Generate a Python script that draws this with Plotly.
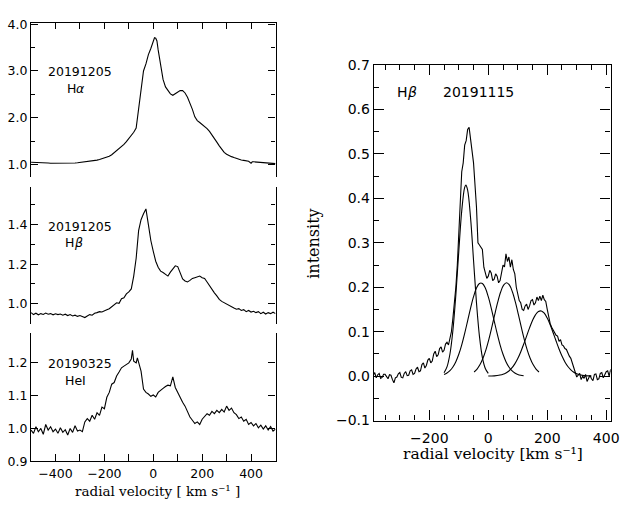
import plotly.graph_objects as go

# ---------------- data ----------------
# Left panels: radial velocity grid (km/s)
v_left = [-500, -490, -480, -470, -460, -450, -440, -430, -420, -410,
          -400, -390, -380, -370, -360, -350, -340, -330, -320, -310,
          -300, -290, -280, -270, -260, -250, -240, -230, -220, -210,
          -200, -190, -180, -170, -160, -150, -140, -130, -120, -110,
          -100, -90, -80, -70, -60, -50, -40, -30, -20, -10,
          0, 10, 20, 30, 40, 50, 60, 70, 80, 90,
          100, 110, 120, 130, 140, 150, 160, 170, 180, 190,
          200, 210, 220, 230, 240, 250, 260, 270, 280, 290,
          300, 310, 320, 330, 340, 350, 360, 370, 380, 390,
          400, 410, 420, 430, 440, 450, 460, 470, 480, 490, 500]

v_halpha = [-500, -490, -480, -470, -460, -450, -440, -430, -420, -410,
            -400, -390, -380, -370, -360, -350, -340, -330, -320, -310,
            -300, -290, -280, -270, -260, -250, -240, -230, -220, -210,
            -200, -190, -180, -170, -160, -150, -140, -130, -120, -110,
            -100, -90, -80, -70, -60, -50, -40, -30, -20, -10,
            0, 5, 10, 15, 20, 30, 40, 50, 60, 70, 80, 90,
            100, 110, 120, 130, 140, 150, 160, 170, 180, 190,
            200, 210, 220, 230, 240, 250, 260, 270, 280, 290,
            300, 310, 320, 330, 340, 350, 360, 370, 380, 390,
            400, 405, 410, 420, 430, 440, 450, 460, 470, 480, 490, 500]
halpha = [1.05, 1.05, 1.045, 1.05, 1.045, 1.04, 1.04, 1.035, 1.03, 1.03,
          1.025, 1.03, 1.025, 1.02, 1.02, 1.025, 1.03, 1.03, 1.035, 1.04,
          1.045, 1.05, 1.055, 1.06, 1.065, 1.075, 1.085, 1.095, 1.11, 1.125,
          1.14, 1.16, 1.18, 1.21, 1.25, 1.29, 1.33, 1.38, 1.43, 1.49,
          1.55, 1.62, 1.69, 1.78, 2.15, 2.60, 3.00, 3.15, 3.35, 3.48,
          3.66, 3.71, 3.70, 3.64, 3.45, 3.10, 2.82, 2.66, 2.58, 2.51, 2.48, 2.52,
          2.55, 2.58, 2.58, 2.53, 2.44, 2.32, 2.18, 2.02, 1.94, 1.90,
          1.86, 1.82, 1.77, 1.71, 1.64, 1.56, 1.48, 1.40, 1.32, 1.26,
          1.22, 1.19, 1.17, 1.15, 1.13, 1.11, 1.10, 1.09, 1.08, 1.07,
          1.03, 1.06, 1.06, 1.055, 1.05, 1.05, 1.045, 1.04, 1.035, 1.03, 1.02, 1.02]

hbeta_left = [0.955, 0.945, 0.952, 0.944, 0.950, 0.946, 0.953, 0.947, 0.950, 0.944,
              0.949, 0.945, 0.948, 0.942, 0.947, 0.940, 0.945, 0.938, 0.942, 0.936,
              0.940, 0.934, 0.930, 0.938, 0.945, 0.942, 0.952, 0.955, 0.960, 0.958,
              0.966, 0.970, 0.975, 0.985, 0.992, 1.005, 1.002, 1.025, 1.030, 1.050,
              1.060, 1.075, 1.140, 1.230, 1.370, 1.425, 1.455, 1.480, 1.400, 1.320,
              1.265, 1.215, 1.185, 1.165, 1.158, 1.150, 1.140, 1.160, 1.175, 1.192,
              1.188, 1.160, 1.125, 1.115, 1.110, 1.118, 1.128, 1.132, 1.138, 1.140,
              1.132, 1.128, 1.110, 1.090, 1.072, 1.055, 1.040, 1.022, 1.012, 1.005,
              0.995, 0.990, 0.982, 0.978, 0.972, 0.975, 0.966, 0.970, 0.960, 0.966,
              0.958, 0.962, 0.955, 0.960, 0.950, 0.957, 0.948, 0.955, 0.950, 0.957, 0.950]

v_hei = [-500, -490, -480, -470, -460, -450, -440, -430, -420, -410,
         -400, -390, -380, -370, -360, -350, -340, -330, -320, -310,
         -300, -290, -280, -270, -260, -250, -240, -230, -220, -210,
         -200, -190, -180, -170, -160, -150, -140, -130, -120, -110,
         -100, -90, -85, -80, -70, -65, -60, -50, -40, -30, -20, -10,
         0, 10, 20, 30, 40, 50, 60, 70, 80, 90,
         100, 110, 120, 130, 140, 150, 160, 170, 180, 190,
         200, 210, 220, 230, 240, 250, 260, 270, 280, 290,
         300, 310, 320, 330, 340, 350, 360, 370, 380, 390,
         400, 410, 420, 430, 440, 450, 460, 470, 480, 490, 500]
hei = [0.995, 0.985, 1.005, 0.990, 1.000, 0.982, 1.012, 0.995, 1.005, 0.990,
       0.998, 0.985, 1.002, 0.988, 0.996, 0.980, 1.000, 0.988, 1.008, 0.992,
       0.995, 0.990, 1.020, 1.030, 1.022, 1.040, 1.028, 1.048, 1.040, 1.065,
       1.060, 1.095, 1.110, 1.135, 1.140, 1.160, 1.172, 1.185, 1.190, 1.195,
       1.200, 1.212, 1.238, 1.205, 1.200, 1.215, 1.200, 1.175, 1.120, 1.110, 1.105, 1.098,
       1.102, 1.096, 1.110, 1.115, 1.122, 1.128, 1.132, 1.130, 1.157, 1.125,
       1.110, 1.092, 1.080, 1.068, 1.050, 1.035, 1.025, 1.015, 1.020, 1.012,
       1.028, 1.035, 1.045, 1.040, 1.052, 1.045, 1.055, 1.048, 1.058, 1.050,
       1.068, 1.055, 1.062, 1.048, 1.042, 1.030, 1.035, 1.022, 1.028, 1.012,
       1.018, 1.008, 1.015, 1.002, 1.010, 0.998, 1.008, 0.995, 1.006, 0.992, 0.998]

# Right panel: Hbeta 20191115 spectrum
v_right = [-390, -385, -380, -375, -370, -365, -360, -355, -350, -345,
           -340, -335, -330, -325, -320, -315, -310, -305, -300, -295,
           -290, -285, -280, -275, -270, -265, -260, -255, -250, -245,
           -240, -235, -230, -225, -220, -215, -210, -205, -200, -195,
           -190, -185, -180, -175, -170, -165, -160, -155, -150, -145,
           -140, -135, -130, -125, -120, -115,
           -110, -105, -100, -95, -90, -85, -80, -75, -70, -65,
           -60, -50, -40, -35, -30, -20, -15, -10, -5, 0, 5, 10,
           15, 20, 25, 30, 35, 40, 45, 50, 55, 60, 65, 70, 75, 80,
           85, 90, 95, 100, 105, 110, 115, 120, 125, 130, 135, 140, 145, 150, 155, 160, 165, 170,
           175, 180, 185, 190, 195, 200, 205, 210, 215, 220, 225, 230, 235, 240, 245, 250,
           255, 260, 265, 270, 275, 280, 285, 290, 295, 300, 305, 310, 315, 320, 325, 330, 335, 340,
           345, 350, 355, 360, 365, 370, 375, 380, 385, 390, 395, 400, 405, 410, 415, 420]
hbeta_right = [0.002, 0.008, -0.004, 0.003, 0.006, -0.005, -0.003, 0.004, 0.004, -0.002,
               -0.006, 0.003, 0.002, -0.008, -0.015, -0.004, -0.002, 0.005, 0.008, -0.003,
               -0.004, 0.006, 0.010, 0.001, 0.002, 0.012, 0.014, 0.004, 0.006, 0.016,
               0.020, 0.010, 0.012, 0.026, 0.030, 0.018, 0.024, 0.036, 0.040, 0.030,
               0.034, 0.050, 0.056, 0.044, 0.048, 0.062, 0.066, 0.054, 0.058, 0.072,
               0.076, 0.070, 0.085, 0.100, 0.130, 0.160,
               0.200, 0.250, 0.330, 0.420, 0.460, 0.480, 0.520, 0.530, 0.555, 0.560,
               0.535, 0.480, 0.380, 0.300, 0.295, 0.285, 0.245, 0.235, 0.220, 0.225, 0.238, 0.232,
               0.215, 0.218, 0.230, 0.225, 0.210, 0.215, 0.232, 0.250, 0.246, 0.275, 0.258, 0.268, 0.245, 0.262,
               0.240, 0.230, 0.200, 0.185, 0.170, 0.165, 0.150, 0.148, 0.158, 0.162, 0.150, 0.158, 0.170, 0.172,
               0.160, 0.165, 0.178, 0.170, 0.180,
               0.170, 0.182, 0.172, 0.168, 0.150, 0.130, 0.118, 0.110, 0.104, 0.100, 0.092, 0.090, 0.078,
               0.082, 0.070, 0.068,
               0.062, 0.060, 0.050, 0.045, 0.040, 0.030, 0.018, 0.008, -0.002, 0.002, 0.006, -0.008, 0.000,
               -0.005, 0.004, -0.012, -0.004, 0.002,
               -0.006, -0.010, 0.004, 0.005, -0.008, -0.006, 0.006, 0.008, -0.004, 0.004, 0.010, 0.012,
               0.000, 0.015, 0.004, -0.006]

# Gaussian components
v_comp1 = [-150, -140, -130, -120, -110, -100, -90, -80, -76, -70, -60, -50, -40, -30, -20, -10, 0]
comp1 = [0.0075, 0.0208, 0.0497, 0.1027, 0.1829, 0.2808, 0.372, 0.425, 0.430, 0.4187, 0.3557,
         0.2608, 0.1649, 0.0899, 0.0423, 0.0172, 0.006]
v_comp2 = [-150, -140, -130, -120, -110, -100, -90, -80, -70, -60, -50, -40, -30, -20,
           -10, 0, 10, 20, 30, 40, 50, 60, 70, 80, 90, 100, 110, 120]
comp2 = [0.0037, 0.0069, 0.0122, 0.0204, 0.0325, 0.0491, 0.0705, 0.0962, 0.1245, 0.1530,
         0.1787, 0.1982, 0.2087, 0.2087, 0.1982, 0.1787, 0.1530, 0.1245, 0.0962, 0.0705,
         0.0491, 0.0325, 0.0204, 0.0122, 0.0069, 0.0037, 0.0019, 0.0009]
v_comp3 = [-48, -38, -28, -18, -8, 2, 12, 22, 32, 42, 52, 62, 72, 82, 92, 102, 112, 122,
           132, 142, 152, 162, 172]
comp3 = [0.0092, 0.0159, 0.0259, 0.0402, 0.0592, 0.0829, 0.1101, 0.1389, 0.1665, 0.1894,
         0.2047, 0.2100, 0.2047, 0.1894, 0.1665, 0.1389, 0.1101, 0.0829, 0.0592, 0.0402,
         0.0259, 0.0159, 0.0092]
v_comp4 = [0, 10, 20, 30, 40, 50, 60, 70, 80, 90, 100, 110, 120, 130, 140, 150, 160, 170,
           180, 190, 200, 210, 220, 230, 240, 250, 260, 270, 280, 290, 300, 310, 320, 330,
           340, 350]
comp4 = [0.0001, 0.0003, 0.0006, 0.0012, 0.0023, 0.0041, 0.0071, 0.0116, 0.0183, 0.0275,
         0.0395, 0.0544, 0.0716, 0.0901, 0.1085, 0.1251, 0.1379, 0.1454, 0.1467, 0.1416,
         0.1307, 0.1155, 0.0976, 0.0789, 0.0610, 0.0451, 0.0319, 0.0216, 0.0140, 0.0087,
         0.0051, 0.0029, 0.0016, 0.0008, 0.0004, 0.0002]

# ---------------- layout helpers ----------------
W, H = 629, 506


def fx(p):
    return p / W


def fy(p):
    return 1 - p / H


BLACK = "black"
TICKFONT = dict(family="DejaVu Sans", size=12.5, color=BLACK)
TICKFONT_R = dict(family="DejaVu Sans", size=14, color=BLACK)
SERIF = "DejaVu Serif"

fig = go.Figure()
line = dict(color=BLACK, width=1.1)
fig.add_trace(go.Scatter(x=v_halpha, y=halpha, mode="lines", line=line, xaxis="x", yaxis="y"))
fig.add_trace(go.Scatter(x=v_left, y=hbeta_left, mode="lines", line=line, xaxis="x2", yaxis="y2"))
fig.add_trace(go.Scatter(x=v_hei, y=hei, mode="lines", line=line, xaxis="x3", yaxis="y3"))
fig.add_trace(go.Scatter(x=v_right, y=hbeta_right, mode="lines", line=line, xaxis="x4", yaxis="y4"))
for vx, vy in [(v_comp1, comp1), (v_comp2, comp2), (v_comp3, comp3), (v_comp4, comp4)]:
    fig.add_trace(go.Scatter(x=vx, y=vy, mode="lines", line=dict(color=BLACK, width=1.1, shape="spline"),
                             xaxis="x4", yaxis="y4"))

LX = [fx(31.5), fx(279.5)]
common = dict(showgrid=False, zeroline=False, linecolor=BLACK, linewidth=1.3,
              tickcolor=BLACK, tickwidth=1.2)
MINOR = dict(ticks="inside", tickcolor=BLACK, tickwidth=1.2)

fig.update_layout(
    # panel 1 (Halpha)
    xaxis=dict(domain=LX, anchor="y", range=[-500, 500], side="top", showline=True, mirror=False,
               ticks="inside", ticklen=6, dtick=200, tick0=0, showticklabels=False,
               minor=dict(dtick=100, ticklen=6, **MINOR), **common),
    yaxis=dict(domain=[fy(175), fy(15)], anchor="x", range=[0.725, 4.035], showline=True, mirror="ticks",
               ticks="inside", ticklen=7, dtick=1, tick0=0, tickformat=".1f", tickfont=TICKFONT,
               minor=dict(dtick=0.5, ticklen=4, **MINOR), **common),
    # panel 2 (Hbeta)
    xaxis2=dict(domain=LX, anchor="y2", range=[-500, 500], showline=False, ticks="",
                showticklabels=False, **common),
    yaxis2=dict(domain=[fy(326), fy(185)], anchor="x2", range=[0.899, 1.59], showline=True, mirror="ticks",
                ticks="inside", ticklen=7, tickvals=[1.0, 1.2, 1.4], tickformat=".1f", tickfont=TICKFONT,
                minor=dict(dtick=0.1, tick0=0.9, ticklen=4, **MINOR), **common),
    # panel 3 (HeI)
    xaxis3=dict(domain=LX, anchor="y3", range=[-500, 500], showline=True, mirror=False,
                ticks="inside", ticklen=7, dtick=200, tick0=0, tickfont=TICKFONT, ticklabelstandoff=1,
                minor=dict(dtick=100, ticklen=7, **MINOR), **common),
    yaxis3=dict(domain=[fy(468), fy(336)], anchor="x3", range=[0.9, 1.29], showline=True, mirror="ticks",
                ticks="inside", ticklen=7, dtick=0.1, tick0=0.9, tickformat=".1f", tickfont=TICKFONT,
                **common),
    # right panel
    xaxis4=dict(domain=[fx(379.3), fx(619.5)], anchor="y4", range=[-388, 415], showline=True, mirror="ticks",
                ticks="inside", ticklen=10, dtick=200, tick0=0, tickfont=TICKFONT_R, ticklabelstandoff=5,
                minor=dict(dtick=50, ticklen=5, **MINOR), **common),
    yaxis4=dict(domain=[fy(426), fy(59)], anchor="x4", range=[-0.1, 0.7], showline=True, mirror="ticks",
                ticks="inside", ticklen=10, dtick=0.1, tick0=0, tickformat=".1f", tickfont=TICKFONT_R,
                minor=dict(dtick=0.05, ticklen=5, **MINOR), **common),
)


def note(text, x, y, size=12, family="DejaVu Sans", angle=0, style="normal"):
    fig.add_annotation(text=text, x=fx(x), y=fy(y), xref="paper", yref="paper", showarrow=False,
                       xanchor="center", yanchor="middle", textangle=angle, borderpad=0,
                       font=dict(family=family, size=size, color=BLACK, style=style))


note("20191205", 81, 66, size=12.5)
note("H", 72.9, 83, size=12.5)
note("α", 81.7, 83, size=12.5, style="italic")
note("20191205", 81, 226, size=12.5)
note("H", 71, 242, size=12.5)
note("β", 79.7, 242, size=12.5, style="italic")
note("20190325", 81, 367, size=12.5)
note("HeI", 77, 385, size=12.5)
note("H", 408.5, 87, size=14)
note("β", 418.2, 87, size=14, style="italic")
note("20191115", 485, 87, size=14)
note("radial velocity [ km s⁻¹ ]", 160, 498.5, size=13.5, family=SERIF)
note("radial velocity [km s⁻¹]", 500, 461, size=15.5, family=SERIF)
note("intensity", 318, 243, size=16, family=SERIF, angle=-90)

fig.update_layout(width=W, height=H, margin=dict(l=0, r=0, t=0, b=0), showlegend=False,
                  paper_bgcolor="white", plot_bgcolor="white")

fig.write_html("out.html")
